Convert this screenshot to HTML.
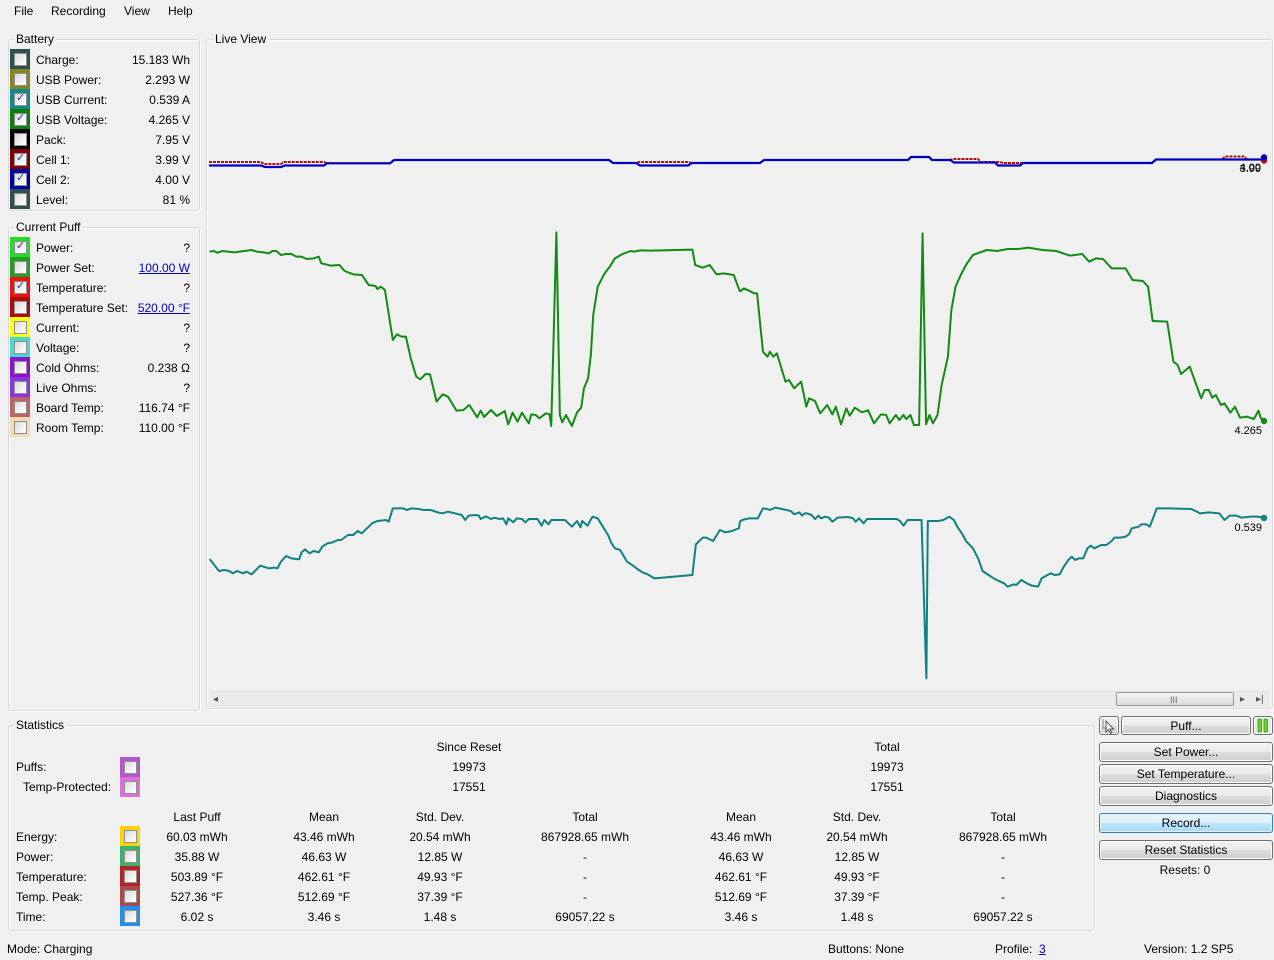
<!DOCTYPE html>
<html><head><meta charset="utf-8">
<style>
*{margin:0;padding:0;box-sizing:border-box}
html,body{width:1274px;height:960px;overflow:hidden;background:#f0f0f0}
body{position:relative;font:12px "Liberation Sans",Arial,sans-serif;color:#000}
.t{position:absolute;white-space:nowrap;line-height:14px;font-size:12px;margin-top:1px}
.r{text-align:right}
.c{text-align:center}
.gb{position:absolute;border:1px solid #d5d9dc;border-radius:3px;box-shadow:inset 1px 1px 0 #fff,1px 1px 0 #fff}
.gt{position:absolute;background:#f0f0f0;padding:0 2px;line-height:14px;white-space:nowrap;margin-top:1px}
.sw{position:absolute;width:20px;height:20px}
.cb{position:absolute;left:4px;top:4px;width:13px;height:13px;border:1px solid #8e8f8f;background:linear-gradient(135deg,#d8d8d8,#f6f6f6 70%,#fff);}
.cb.k::after{content:"✓";position:absolute;left:1px;top:-3px;font:bold 11px "DejaVu Sans",sans-serif;color:#2a3d8f}
a{color:#0000cc;text-decoration:underline}
.btn{position:absolute;border:1px solid #707070;border-radius:3px;background:linear-gradient(#f2f2f2 0%,#ebebeb 50%,#dddddd 51%,#cfcfcf 100%);text-align:center;line-height:19px;font-size:12px;box-shadow:inset 0 0 0 1px #fcfcfc}
</style></head><body>

<!-- menu -->
<div class="t" style="left:14px;top:3px">File</div>
<div class="t" style="left:51px;top:3px">Recording</div>
<div class="t" style="left:124px;top:3px">View</div>
<div class="t" style="left:168px;top:3px">Help</div>

<!-- Battery group -->
<div class="gb" style="left:8px;top:39px;width:192px;height:172px"></div>
<div class="gt" style="left:14px;top:31px">Battery</div>

<div class="sw" style="left:10px;top:49px;background:#2f4f4f"><div class="cb"></div></div>
<div class="t" style="left:36px;top:52px">Charge:</div><div class="t r" style="left:90px;width:100px;top:52px">15.183 Wh</div>
<div class="sw" style="left:10px;top:69px;background:#87861e"><div class="cb"></div></div>
<div class="t" style="left:36px;top:72px">USB Power:</div><div class="t r" style="left:90px;width:100px;top:72px">2.293 W</div>
<div class="sw" style="left:10px;top:89px;background:#0f8a8a"><div class="cb k"></div></div>
<div class="t" style="left:36px;top:92px">USB Current:</div><div class="t r" style="left:90px;width:100px;top:92px">0.539 A</div>
<div class="sw" style="left:10px;top:109px;background:#0a800a"><div class="cb k"></div></div>
<div class="t" style="left:36px;top:112px">USB Voltage:</div><div class="t r" style="left:90px;width:100px;top:112px">4.265 V</div>
<div class="sw" style="left:10px;top:129px;background:#000"><div class="cb"></div></div>
<div class="t" style="left:36px;top:132px">Pack:</div><div class="t r" style="left:90px;width:100px;top:132px">7.95 V</div>
<div class="sw" style="left:10px;top:149px;background:#800000"><div class="cb k"></div></div>
<div class="t" style="left:36px;top:152px">Cell 1:</div><div class="t r" style="left:90px;width:100px;top:152px">3.99 V</div>
<div class="sw" style="left:10px;top:169px;background:#0000a8"><div class="cb k"></div></div>
<div class="t" style="left:36px;top:172px">Cell 2:</div><div class="t r" style="left:90px;width:100px;top:172px">4.00 V</div>
<div class="sw" style="left:10px;top:189px;background:#2f4f4f"><div class="cb"></div></div>
<div class="t" style="left:36px;top:192px">Level:</div><div class="t r" style="left:90px;width:100px;top:192px">81 %</div>

<!-- Current Puff -->
<div class="gb" style="left:8px;top:227px;width:192px;height:484px"></div>
<div class="gt" style="left:14px;top:219px">Current Puff</div>

<div class="sw" style="left:10px;top:237px;background:#22dd22"><div class="cb k"></div></div>
<div class="t" style="left:36px;top:240px">Power:</div><div class="t r" style="left:90px;width:100px;top:240px">?</div>
<div class="sw" style="left:10px;top:257px;background:#1fa01f"><div class="cb"></div></div>
<div class="t" style="left:36px;top:260px">Power Set:</div><div class="t r" style="left:90px;width:100px;top:260px"><a>100.00 W</a></div>
<div class="sw" style="left:10px;top:277px;background:#f01010"><div class="cb k"></div></div>
<div class="t" style="left:36px;top:280px">Temperature:</div><div class="t r" style="left:90px;width:100px;top:280px">?</div>
<div class="sw" style="left:10px;top:297px;background:#b00a0a"><div class="cb"></div></div>
<div class="t" style="left:36px;top:300px">Temperature Set:</div><div class="t r" style="left:90px;width:100px;top:300px"><a>520.00 °F</a></div>
<div class="sw" style="left:10px;top:317px;background:#ffff10"><div class="cb"></div></div>
<div class="t" style="left:36px;top:320px">Current:</div><div class="t r" style="left:90px;width:100px;top:320px">?</div>
<div class="sw" style="left:10px;top:337px;background:#48d8d0"><div class="cb"></div></div>
<div class="t" style="left:36px;top:340px">Voltage:</div><div class="t r" style="left:90px;width:100px;top:340px">?</div>
<div class="sw" style="left:10px;top:357px;background:#9010d0"><div class="cb"></div></div>
<div class="t" style="left:36px;top:360px">Cold Ohms:</div><div class="t r" style="left:90px;width:100px;top:360px">0.238 Ω</div>
<div class="sw" style="left:10px;top:377px;background:#8a35e0"><div class="cb"></div></div>
<div class="t" style="left:36px;top:380px">Live Ohms:</div><div class="t r" style="left:90px;width:100px;top:380px">?</div>
<div class="sw" style="left:10px;top:397px;background:#c06060"><div class="cb"></div></div>
<div class="t" style="left:36px;top:400px">Board Temp:</div><div class="t r" style="left:90px;width:100px;top:400px">116.74 °F</div>
<div class="sw" style="left:10px;top:417px;background:#f3dcb5"><div class="cb"></div></div>
<div class="t" style="left:36px;top:420px">Room Temp:</div><div class="t r" style="left:90px;width:100px;top:420px">110.00 °F</div>

<!-- Live View -->
<div class="gb" style="left:206px;top:39px;width:1067px;height:670px"></div>
<div class="gt" style="left:213px;top:31px">Live View</div>

<!-- scrollbar -->
<div style="position:absolute;left:209px;top:691px;width:1060px;height:16px;background:#eaeaea;border-top:1px solid #e0e0e0"></div>
<div class="t" style="left:213px;top:692px;font-size:10px;color:#555">◂</div>
<div style="position:absolute;left:1116px;top:692px;width:118px;height:14px;border:1px solid #9a9a9a;border-radius:2px;background:linear-gradient(#f4f4f4,#dadada)"></div>
<div class="t" style="left:1170px;top:692px;font-size:9px;color:#666">III</div>
<div class="t" style="left:1240px;top:692px;font-size:10px;color:#555">▸</div>
<div class="t" style="left:1256px;top:692px;font-size:10px;color:#555">▸|</div>

<svg style="position:absolute;left:0;top:0" width="1274" height="960" viewBox="0 0 1274 960">
<!-- cell lines -->
<polyline fill="none" stroke="#b01010" stroke-width="2" stroke-dasharray="3 1" points="209,162 261,162 264,164 281,164 284,162 324,162 327,163.3 390,163.3 394,160 609,160 613,163 636,163 639,162 688,162 692,163 760,163 764,160 908,160 911,157 929,157 932,160 950,160 953,159 978,159 981,162 1000,162 1003,163 1019,163 1022,163 1152,163 1156,159.5 1222,159.5 1225,156.5 1244,156.5 1247,159.5 1264,159.5"/>
<polyline fill="none" stroke="#0000c0" stroke-width="2.2" points="209,165.5 261,165.5 265,167 281,167 285,165.5 324,165.5 327,163.3 390,163.3 394,160 609,160 613,163 636,163 640,165.5 688,165.5 692,163 760,163 764,160 908,160 911,157 929,157 932,160 950,160 954,162.5 995,162.5 998,165.5 1020,165.5 1023,163 1152,163 1156,159.5 1264,159.5"/>
<circle cx="1264" cy="160.5" r="3.2" fill="#b01010"/>
<circle cx="1264" cy="157.5" r="3.2" fill="#0000c0"/>
<text x="1261" y="171" text-anchor="end" font-family="Liberation Sans" font-size="11">4.00</text>
<text x="1261" y="172" text-anchor="end" font-family="Liberation Sans" font-size="11">3.99</text>

<!-- green voltage -->
<g transform="translate(200,225) scale(0.34435,0.33333)">
<polyline fill="none" stroke="#138a13" stroke-width="2" vector-effect="non-scaling-stroke" stroke-linejoin="round" points="28,80 40,78 50,83 65,78 80,80 100,82 115,80 130,78 150,75 165,80 185,82 200,85 210,78 222,78 235,90 250,87 265,87 280,95 295,95 310,102 330,100 345,95 352,115 365,118 380,122 405,120 420,138 445,148 470,150 490,180 510,183 515,192 525,185 537,195 560,345 572,328 585,335 598,335 612,400 628,455 640,463 655,447 668,448 687,530 705,508 720,515 745,557 765,555 782,540 805,577 815,557 825,576 845,555 862,573 885,558 895,598 908,563 922,590 935,563 955,595 962,568 975,570 985,580 1005,565 1015,568 1020,603 1035,22 1045,570 1052,592 1063,570 1080,603 1095,562 1107,548 1115,490 1127,460 1135,390 1142,270 1155,185 1175,145 1190,125 1205,100 1225,88 1250,78 1260,80 1280,76 1310,77 1430,74 1438,120 1460,128 1480,120 1500,148 1520,145 1550,150 1568,200"/>
</g>
<g transform="translate(730,225) scale(0.34698,0.33333)">
<polyline fill="none" stroke="#138a13" stroke-width="2" vector-effect="non-scaling-stroke" stroke-linejoin="round" points="28,200 40,190 70,205 78,205 95,380 108,395 115,380 125,395 135,385 160,470 170,465 185,490 205,470 220,545 228,520 245,528 260,565 280,540 295,568 305,545 320,598 335,550 345,572 360,548 380,562 398,556 415,595 435,568 450,570 460,595 478,570 488,585 500,570 508,582 520,570 530,600 545,600 555,25 565,598 575,570 585,595 598,570 610,480 628,395 638,255 650,185 665,150 680,120 700,90 740,75 770,78 800,72 830,72 860,68 900,75 940,78 980,92 1015,87 1035,110 1055,100 1075,102 1100,130 1140,130 1160,165 1190,168 1205,185 1218,288 1260,290 1278,410 1290,420 1300,447 1325,425 1358,520 1368,495 1380,495 1390,518 1400,510 1415,540 1425,535 1442,563 1455,545 1470,578 1490,575 1510,582 1523,557 1530,580 1540,588"/>
</g>
<circle cx="1264" cy="421" r="3.2" fill="#138a13"/>
<text x="1262" y="434" text-anchor="end" font-family="Liberation Sans" font-size="11">4.265</text>

<!-- teal current -->
<g transform="translate(200,495) scale(0.34435,0.33333)">
<polyline fill="none" stroke="#108080" stroke-width="2" vector-effect="non-scaling-stroke" stroke-linejoin="round" points="28,192 55,228 70,225 85,228 95,235 108,228 125,235 135,230 150,238 175,212 200,220 215,218 225,220 235,200 250,183 265,190 288,193 295,172 305,163 318,175 330,168 345,172 355,155 370,145 385,142 400,135 410,135 430,120 445,120 458,108 470,115 485,100 500,85 515,78 540,75 548,80 560,40 590,40 600,45 615,40 635,42 650,45 670,45 690,52 705,55 720,50 740,55 760,60 770,75 780,62 800,60 810,62 815,72 830,64 845,72 855,68 870,72 880,70 890,88 895,70 910,82 920,70 935,72 945,82 955,72 980,72 992,92 1000,75 1012,88 1020,75 1060,75 1080,95 1095,78 1105,97 1110,78 1125,92 1140,65 1155,70 1170,95 1185,120 1195,145 1205,160 1220,165 1240,200 1255,210 1270,222 1285,232 1300,238 1320,250 1430,240 1440,148 1460,128 1470,128 1490,138 1510,105 1525,112 1545,108 1565,100 1568,80"/>
</g>
<g transform="translate(730,495) scale(0.34698,0.33333)">
<polyline fill="none" stroke="#108080" stroke-width="2" vector-effect="non-scaling-stroke" stroke-linejoin="round" points="28,80 35,75 55,70 80,70 95,40 108,42 115,45 130,38 150,42 175,48 185,58 200,52 208,62 215,55 222,55 235,60 245,72 255,62 262,70 275,65 285,68 295,80 310,68 340,66 355,70 362,80 372,70 385,85 395,72 420,72 480,72 490,78 500,92 512,75 552,75 553,110 566,550 570,78 600,78 615,75 632,65 645,75 655,95 670,118 680,138 700,160 715,190 728,228 745,240 760,250 775,258 790,265 800,275 818,268 825,270 840,255 855,265 870,272 888,275 898,250 915,240 925,235 935,240 950,238 962,215 975,195 985,185 995,195 1005,190 1018,190 1030,160 1040,152 1050,160 1070,150 1085,150 1100,138 1108,128 1125,128 1140,125 1150,118 1158,100 1178,95 1185,88 1200,88 1210,95 1230,40 1265,40 1330,42 1355,55 1380,52 1410,55 1425,75 1440,62 1460,62 1475,68 1500,65 1520,65 1540,68"/>
</g>
<circle cx="1264" cy="518" r="3.2" fill="#108080"/>
<text x="1262" y="531" text-anchor="end" font-family="Liberation Sans" font-size="11">0.539</text>
</svg>

<!-- Statistics -->
<div class="gb" style="left:8px;top:725px;width:1087px;height:206px"></div>
<div class="gt" style="left:14px;top:717px">Statistics</div>

<div class="t c" style="left:369px;width:200px;top:739px">Since Reset</div>
<div class="t c" style="left:787px;width:200px;top:739px">Total</div>
<div class="t" style="left:16px;top:759px">Puffs:</div>
<div class="t" style="left:23px;top:779px">Temp-Protected:</div>
<div class="sw" style="left:120px;top:757px;background:#b655d0"><div class="cb"></div></div>
<div class="sw" style="left:120px;top:777px;background:#dc70d8"><div class="cb"></div></div>
<div class="t c" style="left:369px;width:200px;top:759px">19973</div>
<div class="t c" style="left:787px;width:200px;top:759px">19973</div>
<div class="t c" style="left:369px;width:200px;top:779px">17551</div>
<div class="t c" style="left:787px;width:200px;top:779px">17551</div>

<div class="t c" style="left:137px;width:120px;top:809px">Last Puff</div>
<div class="t c" style="left:264px;width:120px;top:809px">Mean</div>
<div class="t c" style="left:380px;width:120px;top:809px">Std. Dev.</div>
<div class="t c" style="left:525px;width:120px;top:809px">Total</div>
<div class="t c" style="left:681px;width:120px;top:809px">Mean</div>
<div class="t c" style="left:797px;width:120px;top:809px">Std. Dev.</div>
<div class="t c" style="left:943px;width:120px;top:809px">Total</div>

<div class="t" style="left:16px;top:829px">Energy:</div>
<div class="t" style="left:16px;top:849px">Power:</div>
<div class="t" style="left:16px;top:869px">Temperature:</div>
<div class="t" style="left:16px;top:889px">Temp. Peak:</div>
<div class="t" style="left:16px;top:909px">Time:</div>
<div class="sw" style="left:120px;top:826px;background:#ffd20a"><div class="cb"></div></div>
<div class="sw" style="left:120px;top:846px;background:#3cb36a"><div class="cb"></div></div>
<div class="sw" style="left:120px;top:866px;background:#b32424"><div class="cb"></div></div>
<div class="sw" style="left:120px;top:886px;background:#ab4a4a"><div class="cb"></div></div>
<div class="sw" style="left:120px;top:906px;background:#2090f0"><div class="cb"></div></div>

<div class="t c" style="left:137px;width:120px;top:829px">60.03 mWh</div>
<div class="t c" style="left:264px;width:120px;top:829px">43.46 mWh</div>
<div class="t c" style="left:380px;width:120px;top:829px">20.54 mWh</div>
<div class="t c" style="left:515px;width:140px;top:829px">867928.65 mWh</div>
<div class="t c" style="left:681px;width:120px;top:829px">43.46 mWh</div>
<div class="t c" style="left:797px;width:120px;top:829px">20.54 mWh</div>
<div class="t c" style="left:933px;width:140px;top:829px">867928.65 mWh</div>

<div class="t c" style="left:137px;width:120px;top:849px">35.88 W</div>
<div class="t c" style="left:264px;width:120px;top:849px">46.63 W</div>
<div class="t c" style="left:380px;width:120px;top:849px">12.85 W</div>
<div class="t c" style="left:525px;width:120px;top:849px">-</div>
<div class="t c" style="left:681px;width:120px;top:849px">46.63 W</div>
<div class="t c" style="left:797px;width:120px;top:849px">12.85 W</div>
<div class="t c" style="left:943px;width:120px;top:849px">-</div>

<div class="t c" style="left:137px;width:120px;top:869px">503.89 °F</div>
<div class="t c" style="left:264px;width:120px;top:869px">462.61 °F</div>
<div class="t c" style="left:380px;width:120px;top:869px">49.93 °F</div>
<div class="t c" style="left:525px;width:120px;top:869px">-</div>
<div class="t c" style="left:681px;width:120px;top:869px">462.61 °F</div>
<div class="t c" style="left:797px;width:120px;top:869px">49.93 °F</div>
<div class="t c" style="left:943px;width:120px;top:869px">-</div>

<div class="t c" style="left:137px;width:120px;top:889px">527.36 °F</div>
<div class="t c" style="left:264px;width:120px;top:889px">512.69 °F</div>
<div class="t c" style="left:380px;width:120px;top:889px">37.39 °F</div>
<div class="t c" style="left:525px;width:120px;top:889px">-</div>
<div class="t c" style="left:681px;width:120px;top:889px">512.69 °F</div>
<div class="t c" style="left:797px;width:120px;top:889px">37.39 °F</div>
<div class="t c" style="left:943px;width:120px;top:889px">-</div>

<div class="t c" style="left:137px;width:120px;top:909px">6.02 s</div>
<div class="t c" style="left:264px;width:120px;top:909px">3.46 s</div>
<div class="t c" style="left:380px;width:120px;top:909px">1.48 s</div>
<div class="t c" style="left:525px;width:120px;top:909px">69057.22 s</div>
<div class="t c" style="left:681px;width:120px;top:909px">3.46 s</div>
<div class="t c" style="left:797px;width:120px;top:909px">1.48 s</div>
<div class="t c" style="left:943px;width:120px;top:909px">69057.22 s</div>

<!-- buttons -->
<div class="btn" style="left:1099px;top:716px;width:20px;height:19px"></div>
<div class="btn" style="left:1121px;top:716px;width:130px;height:19px;line-height:18px">Puff...</div>
<div class="btn" style="left:1253px;top:716px;width:20px;height:19px;background:#e8e8e8"></div>
<div class="btn" style="left:1099px;top:742px;width:174px;height:20px">Set Power...</div>
<div class="btn" style="left:1099px;top:764px;width:174px;height:20px">Set Temperature...</div>
<div class="btn" style="left:1099px;top:786px;width:174px;height:20px">Diagnostics</div>
<div class="btn" style="left:1099px;top:813px;width:174px;height:20px;border-color:#3c7fb1;background:linear-gradient(#eaf6fd 0%,#d9f0fc 50%,#bee6fd 51%,#a7d9f5 100%);box-shadow:inset 0 0 0 1px #e4f2fa">Record...</div>
<div class="btn" style="left:1099px;top:840px;width:174px;height:20px">Reset Statistics</div>
<div class="t c" style="left:1125px;width:120px;top:862px">Resets: 0</div>

<!-- status bar -->
<div class="t" style="left:7px;top:941px">Mode: Charging</div>
<div class="t" style="left:828px;top:941px">Buttons: None</div>
<div class="t" style="left:995px;top:941px">Profile:&nbsp; <a>3</a></div>
<div class="t" style="left:1144px;top:941px">Version: 1.2 SP5</div>

<svg style="position:absolute;left:1253px;top:716px" width="20" height="19"><rect x="5" y="3" width="3.5" height="13" rx="1" fill="#6ad22a" stroke="#3a9a10" stroke-width="0.8"/><rect x="11" y="3" width="3.5" height="13" rx="1" fill="#6ad22a" stroke="#3a9a10" stroke-width="0.8"/></svg>
<svg style="position:absolute;left:1099px;top:716px" width="20" height="19"><path d="M4,3 L4,12 L9,12" fill="none" stroke="#7a8a99" stroke-width="1"/><path d="M7,5 L7,16 L9.5,13.5 L11.5,17.5 L13,16.8 L11,13 L14.5,13 Z" fill="#f4f4f4" stroke="#333" stroke-width="0.8"/></svg>
</body></html>
